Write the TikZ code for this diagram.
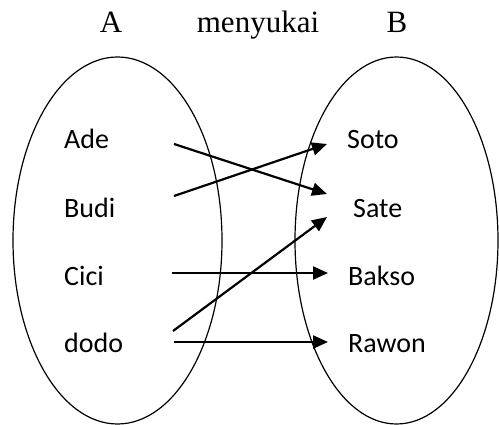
\documentclass[tikz,border=0pt]{standalone}
\usepackage{fontspec}
\setmainfont{Liberation Serif}
\newfontfamily\itemfont{Carlito}
\usetikzlibrary{arrows.meta}

\begin{document}
\begin{tikzpicture}[x=1pt,y=-1pt,
  setbox/.style={draw,line width=1.2pt},
  heading/.style={font=\fontsize{31}{31}\selectfont,anchor=base,inner sep=0pt},
  member/.style={font=\itemfont\fontsize{28}{28}\selectfont,anchor=base west,inner sep=0pt},
  maps/.style={line width=2.2pt,-{Triangle[length=15pt,width=13pt]}}]
  \useasboundingbox (0,0) rectangle (499,425);

  % the two sets
  \draw[setbox] (117.5,240.5) ellipse [x radius=104.5, y radius=183.5];
  \draw[setbox] (396.5,240.5) ellipse [x radius=101.5, y radius=183.5];

  % headings
  \node[heading] (setA) at (111,33) {A};
  \node[heading] (rel)  at (258,33) {menyukai};
  \node[heading] (setB) at (397,33) {B};

  % members of A
  \node[member] (ade)  at (64,149) {Ade};
  \node[member] (budi) at (64,218) {Budi};
  \node[member] (cici) at (64,286) {Cici};
  \node[member] (dodo) at (64,353) {dodo};

  % members of B
  \node[member] (soto)  at (347,149) {Soto};
  \node[member] (sate)  at (353,218) {Sate};
  \node[member] (bakso) at (348,286) {Bakso};
  \node[member] (rawon) at (348,353) {Rawon};

  % start points of the mapping arrows
  \coordinate (ade-o)  at (174,144);
  \coordinate (budi-o) at (174,196);
  \coordinate (cici-o) at (172,273);
  \coordinate (dodo-a) at (173,331);
  \coordinate (dodo-b) at (174,342);

  % end points of the mapping arrows
  \coordinate (soto-i)  at (327,144);
  \coordinate (sate-a)  at (327,194);
  \coordinate (sate-b)  at (327,217);
  \coordinate (bakso-i) at (328,273);
  \coordinate (rawon-i) at (328,342);

  % the relation
  \draw[maps] (ade-o)  -- (sate-a);
  \draw[maps] (budi-o) -- (soto-i);
  \draw[maps] (cici-o) -- (bakso-i);
  \draw[maps] (dodo-a) -- (sate-b);
  \draw[maps] (dodo-b) -- (rawon-i);
\end{tikzpicture}
\end{document}
